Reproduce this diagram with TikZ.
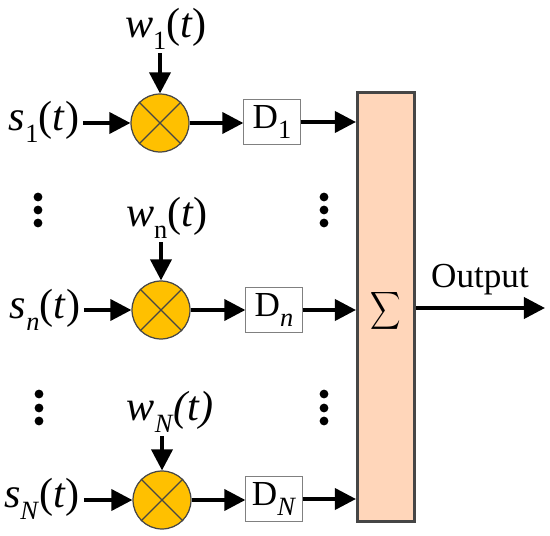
\documentclass[tikz,border=0pt]{standalone}
\usepackage{fontspec}
\setmainfont{Liberation Serif}
\usetikzlibrary{arrows.meta}
\newcommand{\lowsub}[1]{\raisebox{-0.28em}{\fontsize{15}{15}\selectfont #1}}
\definecolor{mixfill}{RGB}{255,192,0}
\definecolor{sumfill}{RGB}{255,214,186}
\definecolor{edgegray}{RGB}{70,70,70}
\tikzset{
    sig/.style={line width=2.1pt, -{Triangle[length=12pt,width=12pt]}},
    mixer/.style={circle, draw=edgegray, line width=0.7pt, fill=mixfill, minimum size=33pt, inner sep=0pt},
    delaybox/.style={draw=gray, line width=0.6pt, fill=white, minimum width=32pt, minimum height=26pt, inner sep=0pt, font=\fontsize{20}{20}\selectfont},
    siglabel/.style={inner sep=2pt, font=\fontsize{24}{24}\selectfont},
    dotmark/.style={circle, fill=black, minimum size=5pt, inner sep=0pt}
}
\begin{document}
\begin{tikzpicture}[x=0.02cm, y=-0.02cm]
            \useasboundingbox (0, 0) rectangle (550, 536);
            % summing bar
            \node[draw=edgegray, line width=1.7pt, fill=sumfill, minimum width=32.5pt, minimum height=244pt, inner sep=0pt] (sum) at (386, 307) {};
            \node[xscale=1.2, yscale=1.5] (sigma) at (386, 311) {$\displaystyle\sum$};
            % first row
            \node[mixer] (mix1) at (160, 123) {};
            \node[delaybox] (d1) at (272, 122) {D\lowsub{1}};
            \node[siglabel] (s1) at (44, 122) {\textit{s}\lowsub{1}(\textit{t})};
            \node[siglabel] (w1) at (166, 29) {\textit{w}\lowsub{1}(\textit{t})};
            % middle row
            \node[mixer] (mixn) at (161, 310) {};
            \node[delaybox] (dn) at (274, 310) {D\lowsub{\textit{n}}};
            \node[siglabel] (sn) at (45, 310) {\textit{s}\lowsub{\textit{n}}(\textit{t})};
            \node[siglabel] (wn) at (167, 218) {\textit{w}\lowsub{n}(\textit{t})};
            % last row
            \node[mixer] (mixN) at (162, 500) {};
            \node[delaybox] (dN) at (274, 499) {D\lowsub{\textit{N}}};
            \node[siglabel] (sN) at (42, 499) {\textit{s}\lowsub{\textit{N}}(\textit{t})};
            \node[siglabel] (wN) at (170, 412) {\textit{w}\lowsub{\textit{N}}\textit{(t)}};
            % crosses
            \foreach \m in {mix1, mixn, mixN} {
                \draw[edgegray, line width=0.7pt] (\m.north west) -- (\m.south east);
                \draw[edgegray, line width=0.7pt] (\m.north east) -- (\m.south west);
            }
            % signal arrows
            \foreach \s/\w/\m/\d in {s1/w1/mix1/d1, sn/wn/mixn/dn, sN/wN/mixN/dN} {
                \draw[sig] (\s.east |- \m) -- (\m.west);
                \draw[sig] (\m |- \w.south) -- (\m.north);
                \draw[sig] (\m.east) -- (\d.west |- \m);
                \draw[sig] (\d.east) -- (\d -| sum.west);
            }
            % output
            \coordinate (outend) at (545, 308);
            \draw[sig] (sum.east |- outend) -- (outend);
            \node[font=\fontsize{20}{20}\selectfont] (outlabel) at (480, 280) {Output};
            % dots
            \foreach \x/\y [count=\i] in {38/197, 38/210, 38/223, 324/197, 324/210, 324/223, 39/394, 39/408, 39/421, 324/394, 324/408, 324/421} {
                \node[dotmark] (dot\i) at (\x, \y) {};
            }
        \end{tikzpicture}
\end{document}
